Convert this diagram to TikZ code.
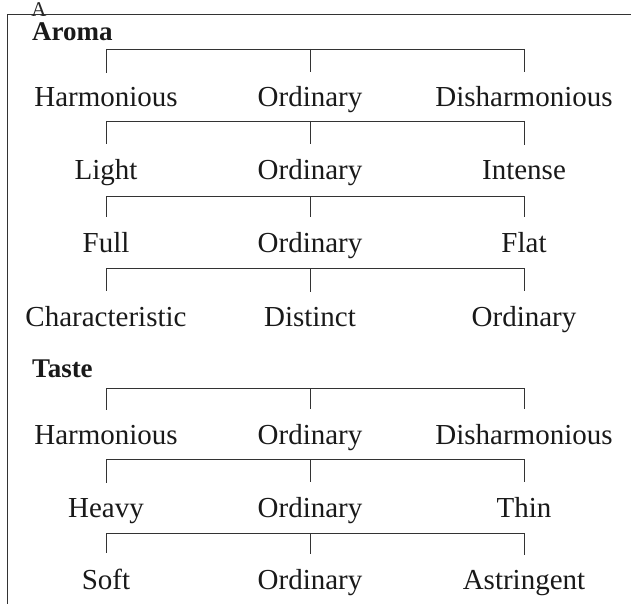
\documentclass[tikz,border=0pt]{standalone}
\usepackage{fontspec}
\setmainfont{Liberation Serif}
\begin{document}
\begin{tikzpicture}[x=1pt,y=-1pt,
  lbl/.style={font=\fontsize{29}{29}\selectfont, inner sep=0pt, anchor=base, text=black!90},
  head/.style={font=\bfseries\fontsize{27}{27}\selectfont, inner sep=0pt, anchor=base west, text=black!90},
  ln/.style={draw=black!80, line width=0.9pt},
]
\useasboundingbox (0,0) rectangle (631,604);
\draw[ln] (631,14) -- (7,14) -- (7,604);
\node[font=\fontsize{21}{21}\selectfont, inner sep=0pt, anchor=base, text=black!85] (artA) at (39,16.5) {A};
\node[head] (aroma) at (32,40.5) {Aroma};
\node[head] (taste) at (32,377) {Taste};
% rows
\foreach \r/\y/\a/\b/\c in {1/107/Harmonious/Ordinary/Disharmonious,
  2/179/Light/Ordinary/Intense,
  3/252/Full/Ordinary/Flat,
  4/326/Characteristic/Distinct/Ordinary,
  5/444/Harmonious/Ordinary/Disharmonious,
  6/517/Heavy/Ordinary/Thin,
  7/589/Soft/Ordinary/Astringent}{
  \node[lbl] (r\r a) at (106,\y) {\a};
  \node[lbl] (r\r b) at (310,\y) {\b};
  \node[lbl] (r\r c) at (524,\y) {\c};
}
\foreach \r/\y in {1/49,2/121,3/196,4/268,5/388,6/459,7/533}{
  \coordinate (k\r) at (0,\y);
  \draw[ln] (r\r a.north |- k\r) -- (r\r c.north |- k\r);
  \foreach \s in {a,b,c}{
    \draw[ln] (r\r\s.north |- k\r) -- ([yshift=15pt]r\r\s.north);
  }
}
\end{tikzpicture}
\end{document}
